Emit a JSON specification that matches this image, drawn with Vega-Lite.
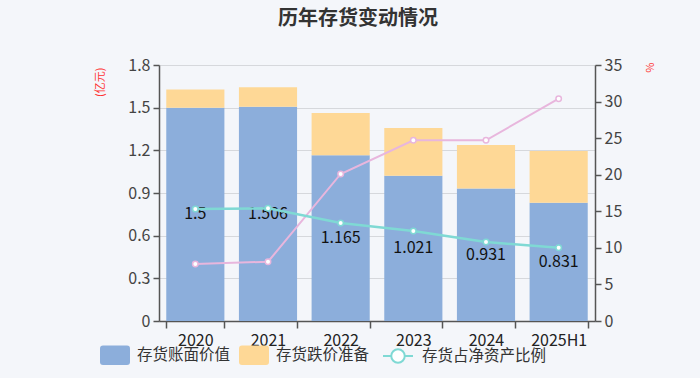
{
  "$schema": "https://vega.github.io/schema/vega-lite/v6.json",
  "autosize": {"type": "none"},
  "width": 436,
  "height": 256,
  "padding": {"left": 159, "top": 65, "right": 105, "bottom": 57},
  "background": "#f4f6fa",
  "title": {"text": "历年存货变动情况", "fontSize": 20, "fontWeight": "bold", "color": "#333333", "anchor": "middle", "frame": "group", "dx": -19, "offset": 28, "font": "Noto Sans CJK SC"},
  "config": {
    "font": "Noto Sans CJK SC",
    "view": {"stroke": null},
    "axis": {"labelFont": "Noto Sans CJK SC", "titleFont": "Noto Sans CJK SC"},
    "legend": {"labelFont": "Noto Sans CJK SC"}
  },
  "datasets": {
    "bars": [
      {"year": "2020", "series": "存货账面价值", "value": 1.5},
      {"year": "2020", "series": "存货跌价准备", "value": 0.127},
      {"year": "2021", "series": "存货账面价值", "value": 1.506},
      {"year": "2021", "series": "存货跌价准备", "value": 0.137},
      {"year": "2022", "series": "存货账面价值", "value": 1.165},
      {"year": "2022", "series": "存货跌价准备", "value": 0.297},
      {"year": "2023", "series": "存货账面价值", "value": 1.021},
      {"year": "2023", "series": "存货跌价准备", "value": 0.336},
      {"year": "2024", "series": "存货账面价值", "value": 0.931},
      {"year": "2024", "series": "存货跌价准备", "value": 0.306},
      {"year": "2025H1", "series": "存货账面价值", "value": 0.831},
      {"year": "2025H1", "series": "存货跌价准备", "value": 0.364}
    ],
    "lines": [
      {"year": "2020", "book": 1.5, "ratio": 15.3, "provRatio": 7.8, "series": "存货占净资产比例"},
      {"year": "2021", "book": 1.506, "ratio": 15.4, "provRatio": 8.1, "series": "存货占净资产比例"},
      {"year": "2022", "book": 1.165, "ratio": 13.4, "provRatio": 20.1, "series": "存货占净资产比例"},
      {"year": "2023", "book": 1.021, "ratio": 12.3, "provRatio": 24.7, "series": "存货占净资产比例"},
      {"year": "2024", "book": 0.931, "ratio": 10.8, "provRatio": 24.7, "series": "存货占净资产比例"},
      {"year": "2025H1", "book": 0.831, "ratio": 10.0, "provRatio": 30.4, "series": "存货占净资产比例"}
    ]
  },
  "encoding": {
    "x": {
      "field": "year", "type": "nominal", "sort": null,
      "scale": {"paddingInner": 0.2, "paddingOuter": 0.1},
      "axis": {"title": null, "labelAngle": 0, "labelFontSize": 16, "labelColor": "#222222", "labelPadding": 4, "domainColor": "#555555", "domainWidth": 1.5, "tickColor": "#555555", "tickWidth": 1.5, "tickSize": 7, "tickBand": "extent", "grid": false}
    }
  },
  "layer": [
    {
      "data": {"name": "bars"},
      "mark": {"type": "bar"},
      "encoding": {
        "y": {
          "field": "value", "type": "quantitative", "stack": "zero",
          "scale": {"domain": [0, 1.8]},
          "axis": {"values": [0, 0.3, 0.6, 0.9, 1.2, 1.5, 1.8], "format": ".1~f", "labelFontSize": 16, "labelColor": "#444444", "labelPadding": 3, "tickSize": 6, "tickColor": "#555555", "tickWidth": 1.5, "domainColor": "#555555", "domainWidth": 1.5, "gridColor": "#d6d8dc", "gridWidth": 1.2,
            "title": "(亿元)", "titleColor": "#ff3333", "titleFontSize": 11, "titleFontWeight": "normal", "titleAngle": -90, "titleAlign": "right", "titleBaseline": "middle", "titleX": -59, "titleY": 2}
        },
        "order": {"field": "series", "type": "nominal", "sort": "ascending"},
        "color": {
          "field": "series", "type": "nominal",
          "scale": {"domain": ["存货账面价值", "存货跌价准备"], "range": ["#8caedb", "#fed896"]},
          "legend": {
            "title": null, "orient": "none", "direction": "horizontal", "legendX": -59, "legendY": 275,
            "labelFontSize": 15.5, "labelColor": "#333333", "labelOffset": 7, "columnPadding": 8, "symbolSize": 900, "symbolStrokeWidth": 0,
            "symbolType": "M-0.8,-0.65H0.8Q1,-0.65 1,-0.45V0.45Q1,0.65 0.8,0.65H-0.8Q-1,0.65 -1,0.45V-0.45Q-1,-0.65 -0.8,-0.65Z"
          }
        }
      }
    },
    {
      "data": {"name": "lines"},
      "transform": [{"calculate": "datum.book / 2", "as": "mid"}],
      "mark": {"type": "text", "fontSize": 16, "color": "#111111", "baseline": "middle"},
      "encoding": {
        "y": {"field": "mid", "type": "quantitative", "scale": {"domain": [0, 1.8]}, "axis": null},
        "text": {"field": "book", "type": "quantitative", "format": "~g"}
      }
    },
    {
      "data": {"name": "lines"},
      "encoding": {
        "y": {"type": "quantitative", "scale": {"domain": [0, 35]},
          "axis": {"orient": "right", "values": [0, 5, 10, 15, 20, 25, 30, 35], "grid": false, "labelFontSize": 16, "labelColor": "#444444", "labelPadding": 3, "tickSize": 6, "tickColor": "#555555", "tickWidth": 1.5, "domainColor": "#555555", "domainWidth": 1.5,
            "title": "%", "titleColor": "#ff3333", "titleFontSize": 11, "titleFontWeight": "normal", "titleAngle": 90, "titleAlign": "center", "titleBaseline": "middle", "titleX": 53, "titleY": 2}}
      },
      "layer": [
        {
          "mark": {"type": "line", "color": "#e8b6dd", "strokeWidth": 2},
          "encoding": {"y": {"field": "provRatio", "type": "quantitative"}}
        },
        {
          "mark": {"type": "point", "filled": true, "fill": "#ffffff", "stroke": "#e8b6dd", "strokeWidth": 1.5, "size": 30, "opacity": 1},
          "encoding": {"y": {"field": "provRatio", "type": "quantitative"}}
        },
        {
          "mark": {"type": "line", "strokeWidth": 2.5},
          "encoding": {
            "y": {"field": "ratio", "type": "quantitative"},
            "stroke": {
              "field": "series", "type": "nominal",
              "scale": {"domain": ["存货占净资产比例"], "range": ["#7fd9d4"]},
              "legend": {
                "title": null, "orient": "none", "legendX": 223, "legendY": 275,
                "labelFontSize": 15.5, "labelColor": "#333333", "labelOffset": 8, "symbolSize": 900, "symbolStrokeWidth": 2,
                "symbolFillColor": "#ffffff", "symbolOpacity": 1,
                "symbolType": "M-1,0H-0.45M0.45,0H1M-0.45,0A0.45,0.45 0 1,0 0.45,0A0.45,0.45 0 1,0 -0.45,0Z"
              }
            }
          }
        },
        {
          "mark": {"type": "point", "filled": true, "fill": "#ffffff", "stroke": "#7fd9d4", "strokeWidth": 1.5, "size": 30, "opacity": 1},
          "encoding": {"y": {"field": "ratio", "type": "quantitative"}}
        }
      ],
      "resolve": {"scale": {"y": "shared"}}
    }
  ],
  "resolve": {"scale": {"y": "independent"}}
}
